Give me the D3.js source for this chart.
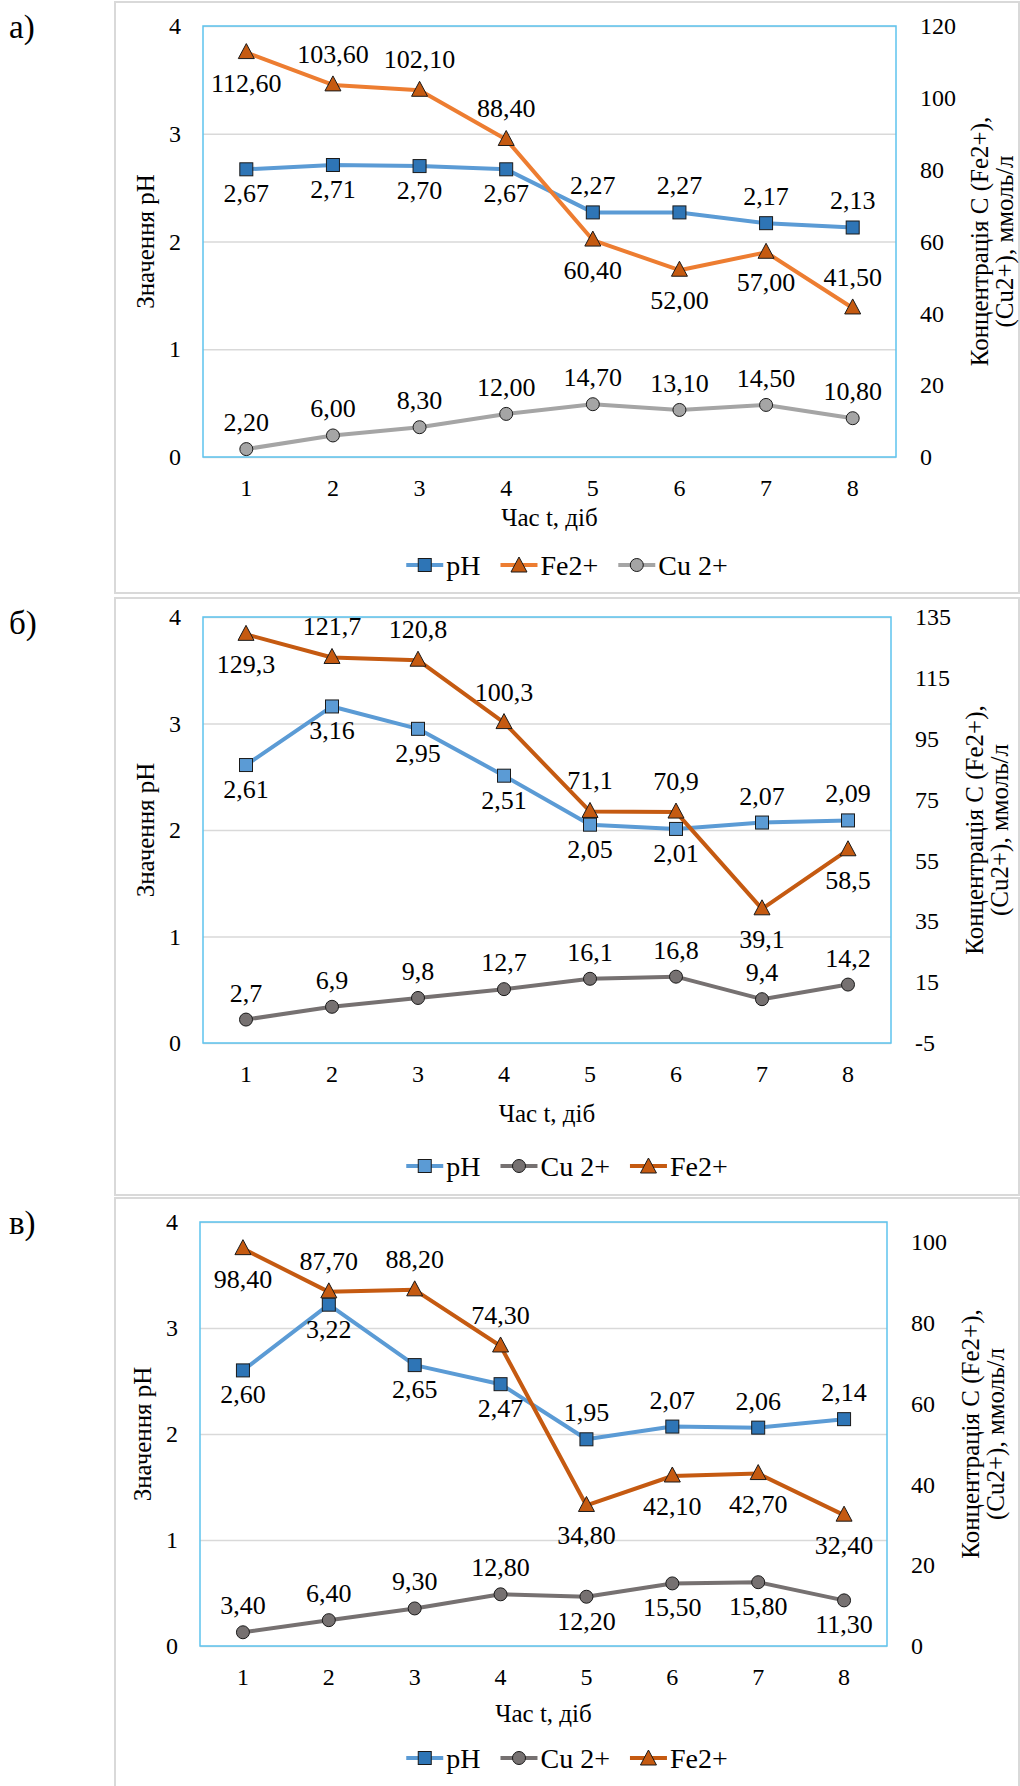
<!DOCTYPE html>
<html>
<head>
<meta charset="utf-8">
<script src="https://cdnjs.cloudflare.com/ajax/libs/d3/7.8.5/d3.min.js"></script>
<style>
  body { margin: 0; background: #fff; }
</style>
</head>
<body>
<svg id="graph"></svg>
<script>
// дані
const days = [1, 2, 3, 4, 5, 6, 7, 8];
const phTicks = [0, 1, 2, 3, 4];

// а)
const phA = [2.67, 2.71, 2.70, 2.67, 2.27, 2.27, 2.17, 2.13];
const feA = [112.6, 103.6, 102.1, 88.4, 60.4, 52.0, 57.0, 41.5];
const cuA = [2.2, 6.0, 8.3, 12.0, 14.7, 13.1, 14.5, 10.8];
const concTicksA = [0, 20, 40, 60, 80, 100, 120];

// б)
const phB = [2.61, 3.16, 2.95, 2.51, 2.05, 2.01, 2.07, 2.09];
const feB = [129.3, 121.7, 120.8, 100.3, 71.1, 70.9, 39.1, 58.5];
const cuB = [2.7, 6.9, 9.8, 12.7, 16.1, 16.8, 9.4, 14.2];
const concTicksB = [-5, 15, 35, 55, 75, 95, 115, 135];

// в)
const phC = [2.60, 3.22, 2.65, 2.47, 1.95, 2.07, 2.06, 2.14];
const feC = [98.4, 87.7, 88.2, 74.3, 34.8, 42.1, 42.7, 32.4];
const cuC = [3.4, 6.4, 9.3, 12.8, 12.2, 15.5, 15.8, 11.3];
const concTicksC = [0, 20, 40, 60, 80, 100];

const W = 1020, H = 1786;
const FONT = '"Liberation Serif", "Times New Roman", "DejaVu Serif", serif';
const FS = 24;     // підписи осей
const LBL = 26;    // підписи даних

const svg = d3.select('#graph').attr('width', W).attr('height', H)
  .style('font-family', FONT);

const panels = [
  {
    letter: 'а)', frame: [115, 2, 904, 591], plot: { l: 203, r: 896, t: 26, b: 457 },
    concDomain: [0, 120], concTicks: concTicksA, dec: 2,
    titleDy: 69, legendDy: 108,
    series: [
      { name: 'pH', data: phA, axis: 'ph', shape: 'square', line: '#5b9bd5', fill: '#2e75b6', pos: 'bbbbtttt' },
      { name: 'Fe2+', data: feA, axis: 'c', shape: 'triangle', line: '#ed7d31', fill: '#c55a11', pos: 'btttbbbt' },
      { name: 'Cu 2+', data: cuA, axis: 'c', shape: 'circle', line: '#a5a5a5', fill: '#a5a5a5', pos: 'tttttttt' }
    ]
  },
  {
    letter: 'б)', frame: [115, 598, 904, 597], plot: { l: 203, r: 891, t: 617, b: 1043 },
    concDomain: [-5, 135], concTicks: concTicksB, dec: 1,
    titleDy: 79, legendDy: 123,
    series: [
      { name: 'pH', data: phB, axis: 'ph', shape: 'square', line: '#5b9bd5', fill: '#5b9bd5', pos: 'bbbbbbtt' },
      { name: 'Cu 2+', data: cuB, axis: 'c', shape: 'circle', line: '#767171', fill: '#767171', pos: 'tttttttt' },
      { name: 'Fe2+', data: feB, axis: 'c', shape: 'triangle', line: '#c55a11', fill: '#c55a11', pos: 'btttttbb' }
    ]
  },
  {
    letter: 'в)', frame: [115, 1198, 904, 600], plot: { l: 200, r: 887, t: 1222, b: 1646 },
    concDomain: [0, 105], concTicks: concTicksC, dec: 2,
    titleDy: 76, legendDy: 112,
    series: [
      { name: 'pH', data: phC, axis: 'ph', shape: 'square', line: '#5b9bd5', fill: '#2e75b6', pos: 'bbbbtttt' },
      { name: 'Cu 2+', data: cuC, axis: 'c', shape: 'circle', line: '#767171', fill: '#767171', pos: 'ttttbbbb' },
      { name: 'Fe2+', data: feC, axis: 'c', shape: 'triangle', line: '#c55a11', fill: '#c55a11', pos: 'btttbbbb' }
    ]
  }
];

const fmt = (v, dec) => v.toFixed(dec).replace('.', ',');

// текст з потрібним шрифтом
const txt = (g, size) => g.append('text')
  .style('font-family', FONT).style('font-size', size + 'px').attr('fill', '#000');

const drawMarker = (g, shape, x, y, fill) => {
  if (shape === 'square') {
    g.append('rect').attr('x', x - 6.5).attr('y', y - 6.5).attr('width', 13).attr('height', 13)
      .attr('fill', fill).attr('stroke', '#1a1a1a').attr('stroke-width', 1);
  } else if (shape === 'triangle') {
    g.append('path').attr('d', `M${x},${y - 9}L${x + 8},${y + 6}L${x - 8},${y + 6}Z`)
      .attr('fill', fill).attr('stroke', '#1a1a1a').attr('stroke-width', 1);
  } else {
    g.append('circle').attr('cx', x).attr('cy', y).attr('r', 6.5)
      .attr('fill', fill).attr('stroke', '#1a1a1a').attr('stroke-width', 1);
  }
};

const styleTicks = sel => sel.selectAll('.tick text')
  .style('font-family', FONT).style('font-size', FS + 'px').attr('fill', '#000');

panels.forEach(p => {
  const g = svg.append('g');
  const [fx, fy, fw, fh] = p.frame;
  const pl = p.plot;

  // рамка діаграми
  g.append('rect').attr('x', fx).attr('y', fy).attr('width', fw).attr('height', fh)
    .attr('fill', '#fff').attr('stroke', '#d9d9d9').attr('stroke-width', 2);

  txt(g, 33).attr('x', 9).attr('y', fy + 36).text(p.letter);

  const x = d3.scaleBand().domain(days).range([pl.l, pl.r]);
  const xc = d => x(d) + x.bandwidth() / 2;
  const yPh = d3.scaleLinear().domain([0, 4]).range([pl.b, pl.t]);
  const yC = d3.scaleLinear().domain(p.concDomain).range([pl.b, pl.t]);

  // сітка + ліва вісь
  const leftAxis = d3.axisLeft(yPh).tickValues(phTicks).tickFormat(d3.format('d'))
    .tickSize(-(pl.r - pl.l)).tickPadding(22);
  const ga = g.append('g').attr('transform', `translate(${pl.l},0)`).call(leftAxis);
  ga.select('.domain').remove();
  ga.selectAll('.tick line').attr('stroke', '#d9d9d9').attr('stroke-width', 1.5);
  styleTicks(ga);

  const rightAxis = d3.axisRight(yC).tickValues(p.concTicks).tickSize(0).tickPadding(24)
    .tickFormat(d => d < 0 ? '-' + Math.abs(d) : String(d));
  const gr = g.append('g').attr('transform', `translate(${pl.r},0)`).call(rightAxis);
  gr.select('.domain').remove();
  styleTicks(gr);

  const bottomAxis = d3.axisBottom(x).tickSize(0).tickPadding(22);
  const gb = g.append('g').attr('transform', `translate(0,${pl.b})`).call(bottomAxis);
  gb.select('.domain').remove();
  styleTicks(gb);

  // рамка області побудови
  g.append('rect').attr('x', pl.l).attr('y', pl.t).attr('width', pl.r - pl.l).attr('height', pl.b - pl.t)
    .attr('fill', 'none').attr('stroke', '#5ec3ee').attr('stroke-width', 1.5);

  // підписи осей
  const my = (pl.t + pl.b) / 2;
  txt(g, 25).attr('transform', `translate(${pl.l - 58},${my}) rotate(-90)`)
    .attr('text-anchor', 'middle').attr('dy', '0.35em').text('Значення pH');
  txt(g, 25).attr('transform', `translate(${pl.r + 83},${my}) rotate(-90)`)
    .attr('text-anchor', 'middle').attr('dy', '0.35em').text('Концентрація С (Fe2+),');
  txt(g, 25).attr('transform', `translate(${pl.r + 108},${my}) rotate(-90)`)
    .attr('text-anchor', 'middle').attr('dy', '0.35em').text('(Cu2+), ммоль/л');
  txt(g, 25).attr('x', (pl.l + pl.r) / 2).attr('y', pl.b + p.titleDy)
    .attr('text-anchor', 'middle').text('Час t, діб');

  // лінії
  p.series.forEach(s => {
    const ys = s.axis === 'ph' ? yPh : yC;
    const line = d3.line().x((d, i) => xc(days[i])).y(d => ys(d));
    g.append('path').datum(s.data).attr('d', line)
      .attr('fill', 'none').attr('stroke', s.line).attr('stroke-width', 4).attr('stroke-linejoin', 'round');
  });
  // маркери і підписи даних
  p.series.forEach(s => {
    const ys = s.axis === 'ph' ? yPh : yC;
    s.data.forEach((v, i) => {
      const px = xc(days[i]), py = ys(v);
      drawMarker(g, s.shape, px, py, s.fill);
      const top = s.pos[i] === 't';
      const tri = s.shape === 'triangle';
      const dy = top ? (tri ? -22 : -18) : (tri ? 39 : 33);
      txt(g, LBL).attr('x', px).attr('y', py + dy).attr('text-anchor', 'middle')
        .text(fmt(v, s.axis === 'ph' ? 2 : p.dec));
    });
  });

  // легенда
  const lg = g.append('g');
  let cx = 0;
  p.series.forEach(s => {
    const it = lg.append('g').attr('transform', `translate(${cx},0)`);
    it.append('line').attr('x1', 0).attr('x2', 37).attr('y1', 0).attr('y2', 0)
      .attr('stroke', s.line).attr('stroke-width', 4);
    drawMarker(it, s.shape, 18.5, s.shape === 'triangle' ? 1 : 0, s.fill);
    const t = txt(it, 28).attr('x', 40).attr('dy', '0.35em').text(s.name);
    cx += 40 + t.node().getComputedTextLength() + 20;
  });
  const lw = cx - 20;
  lg.attr('transform', `translate(${fx + fw / 2 - lw / 2},${pl.b + p.legendDy})`);
});
</script>
</body>
</html>
